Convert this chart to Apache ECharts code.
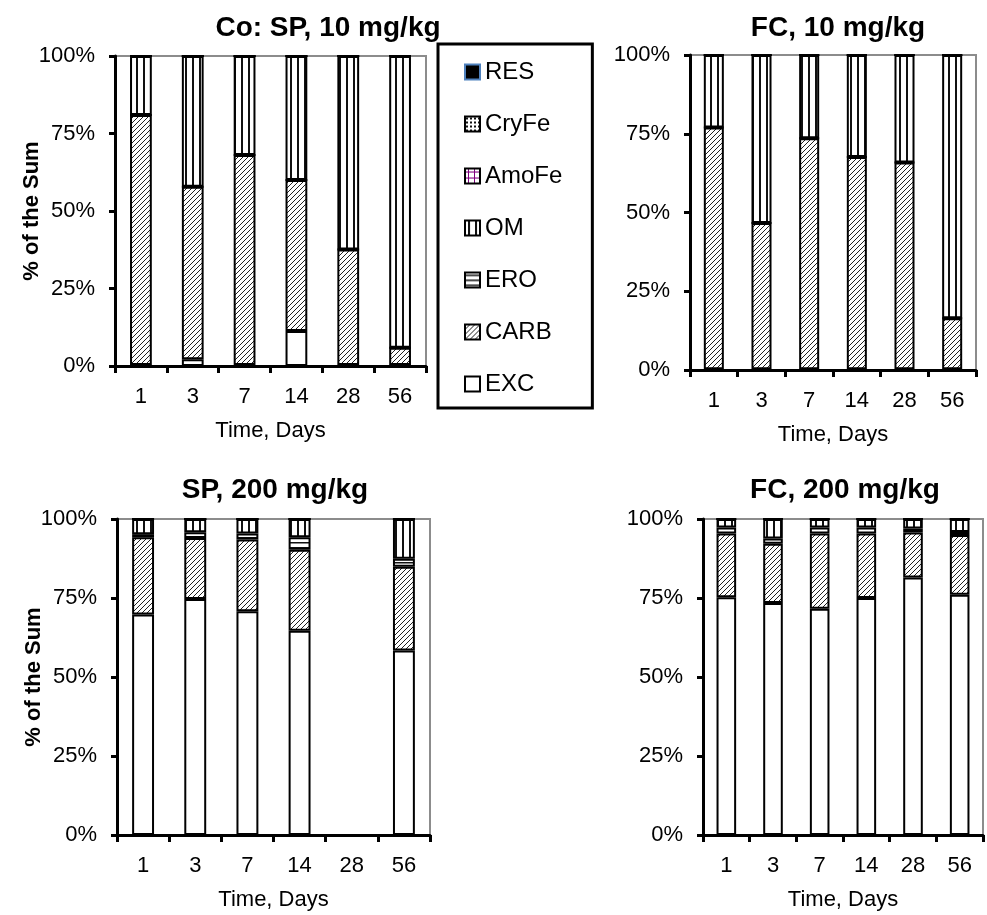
<!DOCTYPE html>
<html>
<head>
<meta charset="utf-8">
<script src="https://cdn.jsdelivr.net/npm/echarts@6/dist/echarts.min.js"></script>
<style>
html,body{margin:0;padding:0;background:#fff;}
#chart{width:987px;height:915px;}
</style>
</head>
<body>
<div id="chart"></div>
<script>
// ---- data ----
const categories = ['1', '3', '7', '14', '28', '56'];
const fractions = ['EXC', 'CARB', 'ERO', 'OM', 'AmoFe', 'CryFe', 'RES'];
const legendOrder = ['RES', 'CryFe', 'AmoFe', 'OM', 'ERO', 'CARB', 'EXC'];
const panelTitles = ['Co: SP, 10 mg/kg', 'FC, 10 mg/kg', 'SP, 200 mg/kg', 'FC, 200 mg/kg'];
const yTicks = [0, 25, 50, 75, 100];

// SP, 10 mg/kg
const SP10_EXC   = [0.3, 2.2, 0.3, 11.3, 0.3, 0.3];
const SP10_CARB  = [80.7, 55.6, 67.8, 48.7, 37.3, 5.6];
const SP10_ERO   = [0, 0, 0, 0, 0, 0];
const SP10_OM    = [19.0, 42.2, 31.9, 40.0, 62.4, 94.1];
const SP10_AmoFe = [0, 0, 0, 0, 0, 0];
const SP10_CryFe = [0, 0, 0, 0, 0, 0];
const SP10_RES   = [0, 0, 0, 0, 0, 0];

// FC, 10 mg/kg
const FC10_EXC   = [0.2, 0.2, 0.2, 0.2, 0.2, 0.2];
const FC10_CARB  = [76.8, 46.5, 73.4, 67.4, 65.7, 16.2];
const FC10_ERO   = [0, 0, 0, 0, 0, 0];
const FC10_OM    = [23.0, 53.3, 26.4, 32.4, 34.1, 83.6];
const FC10_AmoFe = [0, 0, 0, 0, 0, 0];
const FC10_CryFe = [0, 0, 0, 0, 0, 0];
const FC10_RES   = [0, 0, 0, 0, 0, 0];

// SP, 200 mg/kg (day 28 missing)
const SP200_EXC   = [69.8, 74.7, 70.8, 64.6, null, 58.4];
const SP200_CARB  = [24.4, 19.3, 22.7, 25.7, null, 26.5];
const SP200_ERO   = [1.0, 1.8, 1.9, 3.9, null, 2.5];
const SP200_OM    = [4.8, 4.2, 4.6, 5.8, null, 12.6];
const SP200_AmoFe = [0, 0, 0, 0, null, 0];
const SP200_CryFe = [0, 0, 0, 0, null, 0];
const SP200_RES   = [0, 0, 0, 0, null, 0];

// FC, 200 mg/kg
const FC200_EXC   = [75.2, 73.4, 71.6, 75.0, 81.5, 76.0];
const FC200_CARB  = [20.2, 18.8, 23.8, 20.4, 14.2, 18.9];
const FC200_ERO   = [1.9, 1.6, 1.9, 1.9, 1.3, 1.0];
const FC200_OM    = [2.7, 6.2, 2.7, 2.7, 3.0, 4.1];
const FC200_AmoFe = [0, 0, 0, 0, 0, 0];
const FC200_CryFe = [0, 0, 0, 0, 0, 0];
const FC200_RES   = [0, 0, 0, 0, 0, 0];

const panelData = [
  {EXC: SP10_EXC, CARB: SP10_CARB, ERO: SP10_ERO, OM: SP10_OM, AmoFe: SP10_AmoFe, CryFe: SP10_CryFe, RES: SP10_RES},
  {EXC: FC10_EXC, CARB: FC10_CARB, ERO: FC10_ERO, OM: FC10_OM, AmoFe: FC10_AmoFe, CryFe: FC10_CryFe, RES: FC10_RES},
  {EXC: SP200_EXC, CARB: SP200_CARB, ERO: SP200_ERO, OM: SP200_OM, AmoFe: SP200_AmoFe, CryFe: SP200_CryFe, RES: SP200_RES},
  {EXC: FC200_EXC, CARB: FC200_CARB, ERO: FC200_ERO, OM: FC200_OM, AmoFe: FC200_AmoFe, CryFe: FC200_CryFe, RES: FC200_RES}
];

// ---- patterns ----
function tile(w, h, draw) {
  const c = document.createElement('canvas');
  c.width = w; c.height = h;
  const ctx = c.getContext('2d');
  ctx.fillStyle = '#fff';
  ctx.fillRect(0, 0, w, h);
  draw(ctx);
  return {image: c, repeat: 'repeat'};
}
const fills = {
  EXC: '#ffffff',
  CARB: tile(5, 5, ctx => {
    ctx.strokeStyle = '#222'; ctx.lineWidth = 1;
    ctx.beginPath();
    ctx.moveTo(-1, 6); ctx.lineTo(6, -1);
    ctx.moveTo(-1, 1); ctx.lineTo(1, -1);
    ctx.moveTo(4, 6); ctx.lineTo(6, 4);
    ctx.stroke();
  }),
  ERO: tile(4, 5, ctx => { ctx.fillStyle = '#111'; ctx.fillRect(0, 2, 4, 1.5); }),
  OM: tile(7, 4, ctx => { ctx.fillStyle = '#111'; ctx.fillRect(3, 0, 2, 4); }),
  AmoFe: tile(6, 6, ctx => { ctx.fillStyle = '#800080'; ctx.fillRect(3, 0, 1, 6); ctx.fillRect(0, 3, 6, 1); }),
  CryFe: tile(4, 4, ctx => { ctx.fillStyle = '#111'; ctx.fillRect(1, 1, 2, 2); }),
  RES: '#000000'
};

const FONT = '"Liberation Sans", Arial, sans-serif';

const grids = [
  {left: 115, top: 56, width: 311, height: 310},
  {left: 690, top: 55, width: 286, height: 315},
  {left: 117, top: 519, width: 313, height: 316},
  {left: 703, top: 519, width: 280, height: 316}
];
const titlePos = [[323, 9], [833, 9], [270, 471], [840, 471]];

const option = {
  animation: false,
  backgroundColor: '#fff',
  title: panelTitles.map((t, i) => ({
    text: t, left: titlePos[i][0], top: titlePos[i][1], textAlign: 'center',
    textStyle: {fontFamily: FONT, fontSize: 28, fontWeight: 'bold', color: '#000'}
  })),
  legend: {
    data: legendOrder.map(n => n === 'RES'
      ? {name: n, itemStyle: {borderColor: '#4f81bd', borderWidth: 2}}
      : {name: n}),
    orient: 'vertical',
    left: 438, top: 44,
    padding: [14, 30, 10, 26],
    borderColor: '#000', borderWidth: 3,
    icon: 'rect',
    itemGap: 24, itemWidth: 15, itemHeight: 15,
    selectedMode: false,
    itemStyle: {borderColor: '#000', borderWidth: 2},
    textStyle: {fontFamily: FONT, fontSize: 24, color: '#000', lineHeight: 28}
  },
  grid: grids.map(g => Object.assign({show: true, borderColor: '#8c8c8c', borderWidth: 2, backgroundColor: 'transparent'}, g)),
  xAxis: grids.map((g, i) => ({
    type: 'category', gridIndex: i, data: categories,
    boundaryGap: true,
    name: 'Time, Days', nameLocation: 'middle', nameGap: 54,
    nameTextStyle: {fontFamily: FONT, fontSize: 22, color: '#000'},
    axisLine: {lineStyle: {color: '#000', width: 3}},
    axisTick: {show: true, length: 7, lineStyle: {color: '#000', width: 3}},
    axisLabel: {fontFamily: FONT, fontSize: 22, color: '#000', margin: 20},
    splitLine: {show: false}
  })),
  yAxis: grids.map((g, i) => ({
    type: 'value', gridIndex: i, min: 0, max: 100, interval: 25,
    name: (i % 2 === 0) ? '% of the Sum' : '', nameLocation: 'middle', nameGap: 72,
    nameMoveOverlap: false,
    nameTextStyle: {fontFamily: FONT, fontSize: 22, fontWeight: 'bold', color: '#000'},
    axisLine: {show: true, lineStyle: {color: '#000', width: 3}},
    axisTick: {show: true, length: 6, lineStyle: {color: '#000', width: 3}},
    axisLabel: {fontFamily: FONT, fontSize: 22, color: '#000', margin: 20, formatter: '{value}%'},
    splitLine: {show: false}
  })),
  series: []
};

panelData.forEach((pd, i) => {
  fractions.forEach(f => {
    option.series.push({
      type: 'bar', name: f, xAxisIndex: i, yAxisIndex: i, stack: 'p' + i,
      barWidth: '42%',
      data: pd[f],
      itemStyle: {color: fills[f], borderColor: '#000', borderWidth: 2},
      emphasis: {disabled: true}
    });
  });
});

const chart = echarts.init(document.getElementById('chart'), null, {renderer: 'canvas'});
chart.setOption(option);
</script>
</body>
</html>
